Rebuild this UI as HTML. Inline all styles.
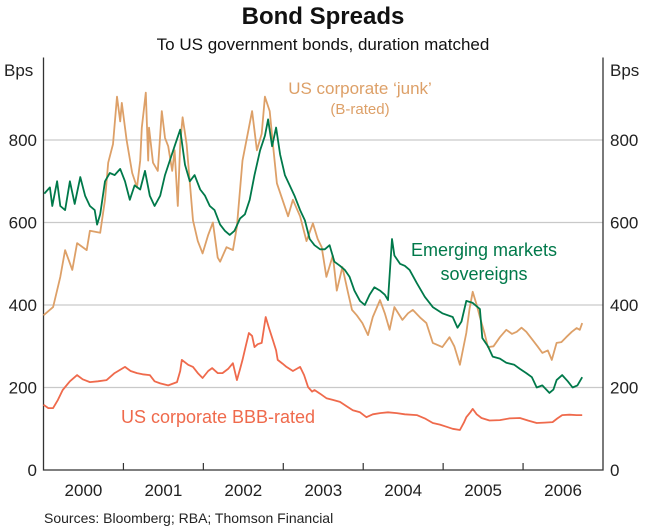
<!DOCTYPE html>
<html><head><meta charset="utf-8"><style>
html,body{margin:0;padding:0;background:#fff;}
svg{display:block;font-family:"Liberation Sans",Arial,sans-serif;}
</style></head><body>
<svg id="chart" width="646" height="530" viewBox="0 0 646 530"></svg>
<script>
const yTicks=[0,200,400,600,800];
const yearLabels=["2000","2001","2002","2003","2004","2005","2006"];
const yearBoundaries=[2001,2002,2003,2004,2005,2006];
const emDates=[2000.01,2000.08,2000.11,2000.17,2000.21,2000.27,2000.33,2000.39,2000.46,2000.52,2000.58,2000.64,2000.67,2000.71,2000.77,2000.83,2000.89,2000.96,2001.02,2001.08,2001.14,2001.21,2001.27,2001.33,2001.39,2001.46,2001.52,2001.58,2001.64,2001.71,2001.77,2001.83,2001.89,2001.96,2002.02,2002.08,2002.14,2002.21,2002.27,2002.33,2002.39,2002.46,2002.52,2002.58,2002.64,2002.71,2002.77,2002.81,2002.86,2002.91,2002.96,2003.02,2003.08,2003.14,2003.21,2003.27,2003.33,2003.39,2003.46,2003.52,2003.58,2003.64,2003.71,2003.77,2003.83,2003.89,2003.96,2004.02,2004.08,2004.14,2004.21,2004.27,2004.31,2004.36,2004.39,2004.46,2004.52,2004.58,2004.67,2004.77,2004.87,2004.99,2005.12,2005.18,2005.23,2005.29,2005.37,2005.46,2005.49,2005.56,2005.62,2005.71,2005.79,2005.89,2005.96,2006.04,2006.11,2006.17,2006.24,2006.33,2006.38,2006.42,2006.49,2006.56,2006.62,2006.68,2006.74];
const emValues=[670,685,640,700,640,630,700,645,710,665,640,630,595,620,700,720,715,730,700,655,690,680,725,665,640,665,715,750,785,825,740,700,715,680,665,640,630,595,580,570,580,610,620,655,715,775,810,850,785,830,765,715,690,665,630,605,560,545,535,535,545,505,495,485,468,435,410,400,425,443,435,425,412,560,520,500,495,485,453,420,395,380,371,345,360,410,405,390,320,300,275,270,260,255,245,235,225,200,205,187,195,218,230,215,200,205,225];
const junkDates=[2000.00,2000.12,2000.21,2000.27,2000.36,2000.42,2000.54,2000.58,2000.71,2000.77,2000.81,2000.87,2000.92,2000.96,2000.98,2001.04,2001.11,2001.17,2001.21,2001.23,2001.28,2001.31,2001.32,2001.37,2001.43,2001.48,2001.52,2001.56,2001.61,2001.64,2001.68,2001.71,2001.74,2001.79,2001.87,2001.93,2001.99,2002.06,2002.12,2002.18,2002.21,2002.29,2002.37,2002.42,2002.49,2002.56,2002.61,2002.67,2002.73,2002.77,2002.83,2002.87,2002.92,2002.99,2003.06,2003.12,2003.21,2003.29,2003.37,2003.43,2003.48,2003.54,2003.62,2003.67,2003.74,2003.81,2003.86,2003.92,2003.99,2004.06,2004.12,2004.21,2004.27,2004.33,2004.39,2004.49,2004.56,2004.62,2004.71,2004.79,2004.87,2004.99,2005.08,2005.14,2005.21,2005.29,2005.33,2005.37,2005.42,2005.46,2005.52,2005.56,2005.63,2005.71,2005.79,2005.86,2005.92,2005.98,2006.04,2006.12,2006.18,2006.24,2006.31,2006.36,2006.42,2006.48,2006.54,2006.61,2006.67,2006.71,2006.74];
const junkValues=[375,395,468,533,485,550,533,580,575,655,745,790,905,845,890,800,720,685,750,830,915,750,830,745,725,870,805,785,725,775,640,790,855,790,605,555,525,570,600,515,505,540,533,590,750,820,870,775,815,905,870,790,695,655,615,655,615,555,598,560,540,468,520,435,492,430,388,375,356,327,371,412,380,340,395,364,380,388,370,356,308,298,322,300,255,332,390,432,400,371,330,298,300,322,340,330,335,345,335,315,300,284,290,267,308,310,322,335,344,340,356];
const bbbDates=[2000.00,2000.06,2000.12,2000.18,2000.24,2000.33,2000.42,2000.49,2000.58,2000.68,2000.79,2000.89,2001.02,2001.09,2001.17,2001.24,2001.33,2001.39,2001.46,2001.56,2001.67,2001.71,2001.73,2001.81,2001.87,2001.93,2001.99,2002.06,2002.11,2002.18,2002.24,2002.31,2002.37,2002.42,2002.46,2002.49,2002.53,2002.57,2002.61,2002.64,2002.68,2002.73,2002.78,2002.82,2002.87,2002.91,2002.93,2002.99,2003.04,2003.12,2003.21,2003.26,2003.31,2003.36,2003.39,2003.46,2003.54,2003.62,2003.71,2003.79,2003.87,2003.96,2004.04,2004.12,2004.21,2004.31,2004.42,2004.52,2004.67,2004.77,2004.87,2004.96,2005.04,2005.12,2005.21,2005.26,2005.29,2005.34,2005.37,2005.42,2005.48,2005.58,2005.71,2005.83,2005.96,2006.06,2006.17,2006.27,2006.37,2006.43,2006.49,2006.58,2006.67,2006.74];
const bbbValues=[158,150,150,170,194,215,230,220,213,215,218,235,250,240,235,232,230,215,210,205,213,240,267,255,250,235,223,240,247,235,235,245,259,218,245,267,300,332,325,298,305,308,371,345,315,290,267,258,250,240,250,230,201,190,194,185,174,170,165,155,145,140,128,135,138,140,138,135,133,125,114,110,105,100,97,115,128,140,148,135,126,120,121,125,126,120,114,115,116,125,133,134,133,133];

const NS="http://www.w3.org/2000/svg";
const svg=document.getElementById('chart');
const L=43.5,R=603,B=470,T=57.5,X0=2000,X1=2007,YMAX=1000;
function xs(t){return L+(t-X0)/(X1-X0)*(R-L);}
function ys(v){return B-v/YMAX*(B-T);}
function mk(tag,attrs,txt){const e=document.createElementNS(NS,tag);for(const k in attrs)e.setAttribute(k,attrs[k]);if(txt!=null)e.textContent=txt;svg.appendChild(e);return e;}

// gridlines and y labels
yTicks.forEach(v=>{
  if(v>0){const g=mk('line',{x1:L,x2:R,y1:ys(v),y2:ys(v),stroke:'#c9c9c9','stroke-width':1.3});
  
  }
  const a=mk('text',{x:37,y:ys(v)+6,'text-anchor':'end','font-size':17,fill:'#222'},String(v));
  
  
  const b=mk('text',{x:610,y:ys(v)+6,'text-anchor':'start','font-size':17,fill:'#222'},String(v));
  
  
});
// axes frame
const fr=mk('path',{d:`M${L},${T} V${B} H${R} V${T}`,fill:'none',stroke:'#333','stroke-width':1.3});


yearBoundaries.forEach(y=>{
  const t=mk('line',{x1:xs(y),x2:xs(y),y1:B,y2:B-7,stroke:'#333','stroke-width':1.2});
  
  
});
yearLabels.forEach((s,i)=>{
  const t=mk('text',{x:xs(X0+i+0.5),y:496,'text-anchor':'middle','font-size':17,fill:'#222'},s);
  
  
});
function series(dates,vals,color,name){
  const d=dates.map((t,i)=>(i?'L':'M')+xs(t).toFixed(1)+','+ys(vals[i]).toFixed(1)).join(' ');
  const p=mk('path',{d:d,fill:'none',stroke:color,'stroke-width':1.8,'stroke-linejoin':'round'});
  
  
}
series(bbbDates,bbbValues,'#ef6a4c','line-us-bbb');
series(junkDates,junkValues,'#dda068','line-us-junk');
series(emDates,emValues,'#00794a','line-emerging-markets');

function label(x,y,s,col,name,size,anchor,weight){
  const t=mk('text',{x:x,y:y,'text-anchor':anchor||'middle','font-size':size,fill:col,'font-weight':weight||'normal'},s);
  
  
}
label(323,24,'Bond Spreads','#111','chart-title',24,'middle','bold');
label(323,50,'To US government bonds, duration matched','#111','chart-subtitle',17);
label(4,76,'Bps','#222','y-axis-unit-left',17,'start');
label(610,76,'Bps','#222','y-axis-unit-right',17,'start');
label(360,94,'US corporate \u2018junk\u2019','#dda068','label-us-junk',17);
label(360,114,'(B-rated)','#dda068','label-b-rated',15);
label(484,256,'Emerging markets','#00794a','label-emerging-markets',18);
label(484,280,'sovereigns','#00794a','label-sovereigns',18);
label(218,423,'US corporate BBB-rated','#ef6a4c','label-us-bbb',18);
label(44,523,'Sources: Bloomberg; RBA; Thomson Financial','#222','sources-note',14,'start');
</script>
</body></html>
